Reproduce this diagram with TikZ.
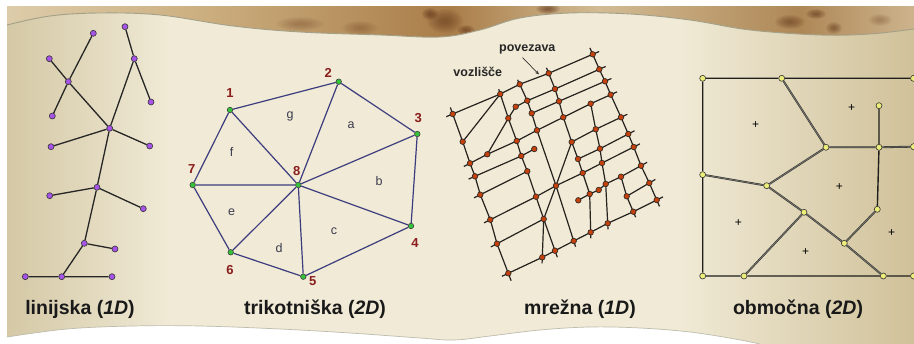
\documentclass[tikz,border=0pt]{standalone}
\usepackage{fontspec}
\setmainfont{Liberation Sans}
\usetikzlibrary{arrows.meta}
\pgfdeclarelayer{back}
\pgfdeclarelayer{lines}
\pgfsetlayers{back,lines,main}
\definecolor{panelL}{HTML}{D4C8A5}
\definecolor{panelM}{HTML}{F0EAD6}
\definecolor{panelR}{HTML}{D0C199}
\definecolor{sepA}{HTML}{DDCCAA}
\definecolor{sepB}{HTML}{CCAF80}
\definecolor{sepC}{HTML}{A97D49}
\definecolor{sepD}{HTML}{D2BB93}
\definecolor{sepE}{HTML}{AE8756}
\definecolor{sepF}{HTML}{CDB48D}
\definecolor{blob}{HTML}{5E3217}
\definecolor{lpurple}{HTML}{A653E8}
\definecolor{tgreen}{HTML}{33C43A}
\definecolor{norange}{HTML}{C4410C}
\definecolor{ryellow}{HTML}{EDED7A}
\definecolor{tblue}{HTML}{3C3C7E}
\definecolor{numred}{HTML}{8A1C1C}
\definecolor{faceg}{HTML}{3A3A4C}
\definecolor{edgeline}{HTML}{A3A088}
\definecolor{streetc}{HTML}{26221E}
\definecolor{rdark}{HTML}{1E1E1A}
\definecolor{rgray}{HTML}{74746A}
\begin{document}
\begin{tikzpicture}[x=1pt,y=-1pt,
  pdot/.style={circle, fill=lpurple, draw=black!80, line width=0.6pt, inner sep=0pt, minimum size=6pt},
  gdot/.style={circle, fill=tgreen, draw=black!75, line width=0.6pt, inner sep=0pt, minimum size=5.5pt},
  odot/.style={circle, fill=norange, draw=black!85, line width=0.6pt, inner sep=0pt, minimum size=5.6pt},
  ydot/.style={circle, fill=ryellow, draw=black!80, line width=0.6pt, inner sep=0pt, minimum size=6pt},
  lline/.style={draw=black!85, line width=1.3pt},
  tline/.style={draw=tblue, line width=1.2pt},
  street/.style={draw=streetc, line width=1.2pt},
  rline/.style={draw=rdark, line width=1.4pt},
  rgline/.style={draw=black!80, line width=0.55pt, double=rgray, double distance=0.8pt},
  lab/.style={font=\fontsize{19.5}{21}\selectfont\bfseries, text=black!90, inner sep=0pt},
  num/.style={font=\fontsize{13}{14}\selectfont\bfseries, text=numred, inner sep=0pt},
  face/.style={font=\fontsize{12.5}{13}\selectfont, text=faceg, inner sep=0pt},
  netlab/.style={font=\fontsize{12.5}{13}\selectfont\bfseries, text=black!85, inner sep=0pt},
  plusmark/.style={font=\fontsize{12}{12}\selectfont, text=black, inner sep=0pt}
]
\useasboundingbox (0,0) rectangle (914,344);

% ---------------- background ----------------
\begin{pgfonlayer}{back}
\fill[white] (0,0) rectangle (914,344);
\begin{scope}
\clip (7,7) rectangle (914,60);
\shade[left color=sepA, right color=sepB] (7,7) rectangle (200.5,60);
\shade[left color=sepB, right color=sepC] (200,7) rectangle (450.5,60);
\shade[left color=sepC, right color=sepD] (450,7) rectangle (600.5,60);
\shade[left color=sepD, right color=sepE] (600,7) rectangle (800.5,60);
\shade[left color=sepE, right color=sepF] (800,7) rectangle (914,60);
\foreach \cx/\cy/\rx/\ry/\op in {445/21/18/12/0.07, 430/14/8/6/0.09, 466/30/9/5/0.08, 548/9/12/5/0.09,
  790/22/15/7/0.07, 816/14/10/5/0.08, 834/28/8/6/0.07, 300/24/24/7/0.035, 360/28/18/7/0.035, 880/20/12/6/0.035}
{
  \foreach \k in {1,0.9,0.8,0.7,0.6,0.5,0.4,0.3,0.2}
    \fill[blob, opacity=\op] (\cx,\cy) ellipse [x radius=\k*\rx pt, y radius=\k*\ry pt];
}
\end{scope}
\begin{scope}
\clip plot[smooth, tension=0.6] coordinates {(7,25) (50,16) (100,13) (160,15) (233,26) (300,32) (380,35) (440,37) (480,30) (520,18) (570,13) (630,14) (690,20) (750,30) (820,35) (870,34) (914,29)}
  -- (914,344) -- (760,344)
  -- plot[smooth, tension=0.6] coordinates {(735,339) (690,332) (640,328) (590,327) (540,330) (490,336) (454,340) (420,338) (350,333) (280,329) (200,326) (133,326) (67,329) (7,337)}
  -- cycle;
\shade[left color=panelL, right color=panelM] (7,0) rectangle (170.5,344);
\fill[panelM] (170,0) rectangle (680.5,344);
\shade[left color=panelM, right color=panelR] (680,0) rectangle (914,344);
\end{scope}
\draw[edgeline, line width=0.9pt] plot[smooth, tension=0.6] coordinates {(7,25) (50,16) (100,13) (160,15) (233,26) (300,32) (380,35) (440,37) (480,30) (520,18) (570,13) (630,14) (690,20) (750,30) (820,35) (870,34) (914,29)};
\draw[edgeline!70, line width=0.7pt] plot[smooth, tension=0.6] coordinates {(760,344) (735,339) (690,332) (640,328) (590,327) (540,330) (490,336) (454,340) (420,338) (350,333) (280,329) (200,326) (133,326) (67,329) (7,337)};
\end{pgfonlayer}

% ---------------- linijska ----------------
\node[pdot] (l1) at (93.3,33.3) {};
\node[pdot] (l2) at (125,26.7) {};
\node[pdot] (l3) at (49.3,58.7) {};
\node[pdot] (l4) at (134.3,58.7) {};
\node[pdot] (l5) at (68.3,81.7) {};
\node[pdot] (l6) at (52.3,116) {};
\node[pdot] (l7) at (151,102) {};
\node[pdot] (l8) at (109.7,128.3) {};
\node[pdot] (l9) at (51,146.7) {};
\node[pdot] (l10) at (149.7,146) {};
\node[pdot] (l11) at (97,187.3) {};
\node[pdot] (l12) at (49.7,195.7) {};
\node[pdot] (l13) at (143.3,208.7) {};
\node[pdot] (l14) at (84.3,243.3) {};
\node[pdot] (l15) at (115,249) {};
\node[pdot] (l16) at (25.3,276.7) {};
\node[pdot] (l17) at (61.7,276.7) {};
\node[pdot] (l18) at (112,276.7) {};

% ---------------- trikotniska ----------------
\node[gdot] (t1) at (230,110) {};
\node[gdot] (t2) at (338.7,81.7) {};
\node[gdot] (t3) at (417.3,134) {};
\node[gdot] (t4) at (411,226) {};
\node[gdot] (t5) at (303.3,276.7) {};
\node[gdot] (t6) at (230.7,252.3) {};
\node[gdot] (t7) at (192.7,185) {};
\node[gdot] (t8) at (298.3,185) {};
\node[num] (n1) at (230,93.3) {1};
\node[num] (n2) at (328.3,73.3) {2};
\node[num] (n3) at (418.3,118.3) {3};
\node[num] (n4) at (415,243.3) {4};
\node[num] (n5) at (312.7,280.7) {5};
\node[num] (n6) at (230,270) {6};
\node[num] (n7) at (191.7,169.3) {7};
\node[num] (n8) at (296.7,170.7) {8};
\node[face] (fg) at (290,116.7) {g};
\node[face] (fa) at (351,125) {a};
\node[face] (ff) at (231.7,151.7) {f};
\node[face] (fb) at (379,181) {b};
\node[face] (fe) at (231.7,212.7) {e};
\node[face] (fc) at (334,231) {c};
\node[face] (fd) at (279,247.7) {d};

% ---------------- mrezna ----------------
\foreach \n/\x/\y in {
 A1/592.7/54.3, A2/548.7/73.3, A3/519.7/84.3, A4/500.3/94, A5/452.7/114,
 B1/599.3/69.3, B2/555/89, B3/527.3/100.7, B4/515.7/106.7, B5/508.3/118.3, B6/462.7/141.7,
 C1/605/81.3, C2/559/101.3, C3/531.7/113.3, C4/516.7/141, C5/487.3/154.3, C6/470/163.3,
 D1/610.7/94.7, D2/590.7/103.7, D3/563.3/117.3, D4/537/130.3, D5/534.3/149, D6/521.3/156, D7/475/176.3,
 E1/621/117.3, E2/595.7/129.3, E3/571.7/142, E4/527.3/171.3, E5/480.3/194.7,
 F1/628.3/134, F2/600/148.7, F3/578/159, F4/556/185.7, F5/536/196.7, F6/490.3/219.7,
 G1/633.7/147, G2/602/163, G3/582.7/173, G4/497/243.7,
 H1/641/165.7, H2/621/176.7, H3/605.7/184, H4/598.7/190, H5/589.7/194, H6/578.3/200.3, H7/543.7/219,
 I1/649.3/183, I2/626.7/196.3,
 J1/656.7/200, J2/633.3/211.7, J3/607.7/223.3, J4/590.7/232.3, J5/573.7/241, J6/555/250.7, J7/542.3/257.3, J8/508.3/273.3}
 {\node[odot] (m\n) at (\x,\y) {};}
\node[netlab] (pv) at (527.3,49) {povezava};
\node[netlab] (vz) at (477.8,71.5) {vozlišče};
\coordinate (pvtail) at (522.5,57.5);
\coordinate (pvtip) at (539,74.5);

% ---------------- obmocna ----------------
\node[ydot] (r1) at (702.7,78.3) {};
\node[ydot] (r2) at (781.7,78.3) {};
\node[ydot] (r3) at (913.5,78.3) {};
\node[ydot] (r4) at (879,105.7) {};
\node[ydot] (r5) at (826,147.3) {};
\node[ydot] (r6) at (879,147.3) {};
\node[ydot] (r7) at (913.5,146.7) {};
\node[ydot] (r8) at (702.7,174.7) {};
\node[ydot] (r9) at (766.7,185.7) {};
\node[ydot] (r10) at (804,212.3) {};
\node[ydot] (r11) at (877.3,209.3) {};
\node[ydot] (r12) at (844.3,243.3) {};
\node[ydot] (r13) at (702.7,276) {};
\node[ydot] (r14) at (744,276) {};
\node[ydot] (r15) at (883.3,276) {};
\node[ydot] (r16) at (913.5,276) {};
\node[plusmark] (p1) at (755.7,125) {+};
\node[plusmark] (p2) at (851.7,107.7) {+};
\node[plusmark] (p3) at (839.3,186.7) {+};
\node[plusmark] (p4) at (738.3,222.7) {+};
\node[plusmark] (p5) at (805.7,251.7) {+};
\node[plusmark] (p6) at (891.5,233) {+};

% ---------------- captions ----------------
\node[lab, anchor=base] (c1) at (80,315) {linijska (\textit{1D})};
\node[lab, anchor=base] (c2) at (315,315) {trikotniška (\textit{2D})};
\node[lab, anchor=base] (c3) at (580,315) {mrežna (\textit{1D})};
\node[lab, anchor=base] (c4) at (798,315) {območna (\textit{2D})};

% ---------------- connectors ----------------
\begin{pgfonlayer}{lines}
% linijska
\draw[lline] (l1)--(l5) (l3)--(l5) (l5)--(l6) (l5)--(l8) (l2)--(l4) (l4)--(l7) (l4)--(l8)
  (l8)--(l9) (l8)--(l10) (l8)--(l11) (l11)--(l12) (l11)--(l13) (l11)--(l14)
  (l14)--(l15) (l14)--(l17) (l16)--(l17) (l17)--(l18);
% trikotniska
\draw[tline] (t1)--(t2) (t2)--(t3) (t3)--(t4) (t4)--(t5) (t5)--(t6) (t6)--(t7) (t7)--(t1)
  (t8)--(t1) (t8)--(t2) (t8)--(t3) (t8)--(t4) (t8)--(t5) (t8)--(t6) (t8)--(t7);
% mrezna rows
\draw[street, shorten <=-7pt, shorten >=-7pt] (mA5.center)--(mA4.center)--(mA3.center)--(mA2.center)--(mA1.center);
\draw[street, shorten >=-7pt] (mB4.center)--(mB3.center)--(mB2.center)--(mB1.center);
\draw[street, shorten >=-7pt] (mC3.center)--(mC2.center)--(mC1.center);
\draw[street, shorten <=-7pt, shorten >=-7pt] (mC6.center)--(mC5.center)--(mC4.center)--(mD4.center)--(mD3.center)--(mD2.center)--(mD1.center);
\draw[street, shorten <=-7pt] (mD7.center)--(mD6.center)--(mD5.center);
\draw[street, shorten <=-7pt] (mE5.center)--(mE4.center);
\draw[street, shorten >=-7pt] (mE3.center)--(mE2.center)--(mE1.center);
\draw[street, shorten >=-7pt] (mF3.center)--(mF2.center)--(mF1.center);
\draw[street, shorten <=-7pt, shorten >=-7pt] (mF6.center)--(mF5.center)--(mF4.center)--(mG3.center)--(mG2.center)--(mG1.center);
\draw[street, shorten <=-7pt] (mG4.center)--(mH7.center);
\draw[street, shorten >=-7pt] (mH6.center)--(mH5.center)--(mH4.center)--(mH3.center)--(mH2.center)--(mH1.center);
\draw[street, shorten >=-7pt] (mI2.center)--(mI1.center);
\draw[street, shorten <=-7pt, shorten >=-7pt] (mJ8.center)--(mJ7.center)--(mJ6.center)--(mJ5.center)--(mJ4.center)--(mJ3.center)--(mJ2.center)--(mJ1.center);
% mrezna columns
\draw[street, shorten <=-7pt, shorten >=-8pt] (mA5.center)--(mB6.center)--(mC6.center)--(mD7.center)--(mE5.center)--(mF6.center)--(mG4.center)--(mJ8.center);
\draw[street, shorten <=-7pt, shorten >=-7pt] (mA1.center)--(mB1.center)--(mC1.center)--(mD1.center)--(mE1.center)--(mF1.center)--(mG1.center)--(mH1.center)--(mI1.center)--(mJ1.center);
\draw[street, shorten <=-5pt, shorten >=-7pt] (mA4.center)--(mB5.center)--(mC4.center)--(mD6.center)--(mE4.center)--(mF5.center)--(mH7.center)--(mJ6.center);
\draw[street, shorten <=-5pt, shorten >=-6pt] (mA3.center)--(mB3.center)--(mC3.center)--(mD4.center)--(mF4.center)--(mJ5.center);
\draw[street, shorten <=-6pt, shorten >=-6pt] (mA2.center)--(mB2.center)--(mC2.center)--(mD3.center)--(mE3.center)--(mF3.center)--(mG3.center)--(mH5.center)--(mJ4.center);
\draw[street, shorten >=-6pt] (mD2.center)--(mE2.center)--(mF2.center)--(mG2.center)--(mH3.center)--(mJ3.center);
\draw[street, shorten >=-6pt] (mH2.center)--(mI2.center)--(mJ2.center);
% mrezna diagonals
\draw[street] (mA4.center)--(mB6.center);
\draw[street] (mB4.center)--(mB5.center)--(mC5.center);
\draw[street, shorten >=-6pt] (mE3.center)--(mF4.center)--(mH7.center)--(mJ7.center);
\draw[black!80, line width=0.7pt, -{Stealth[length=4pt,width=3.5pt]}] (pvtail)--(pvtip);
% obmocna
\draw[rline] (r1)--(r2) (r2)--(r3) (r1)--(r8) (r8)--(r13) (r13)--(r14) (r14)--(r15) (r15)--(r16) (r4)--(r6) (r6)--(r11);
\draw[rgline] (r2)--(r5) (r5)--(r6) (r6)--(r7) (r5)--(r9) (r8)--(r9) (r9)--(r10) (r10)--(r12) (r10)--(r14) (r12)--(r11) (r12)--(r15);
\end{pgfonlayer}
\end{tikzpicture}
\end{document}
